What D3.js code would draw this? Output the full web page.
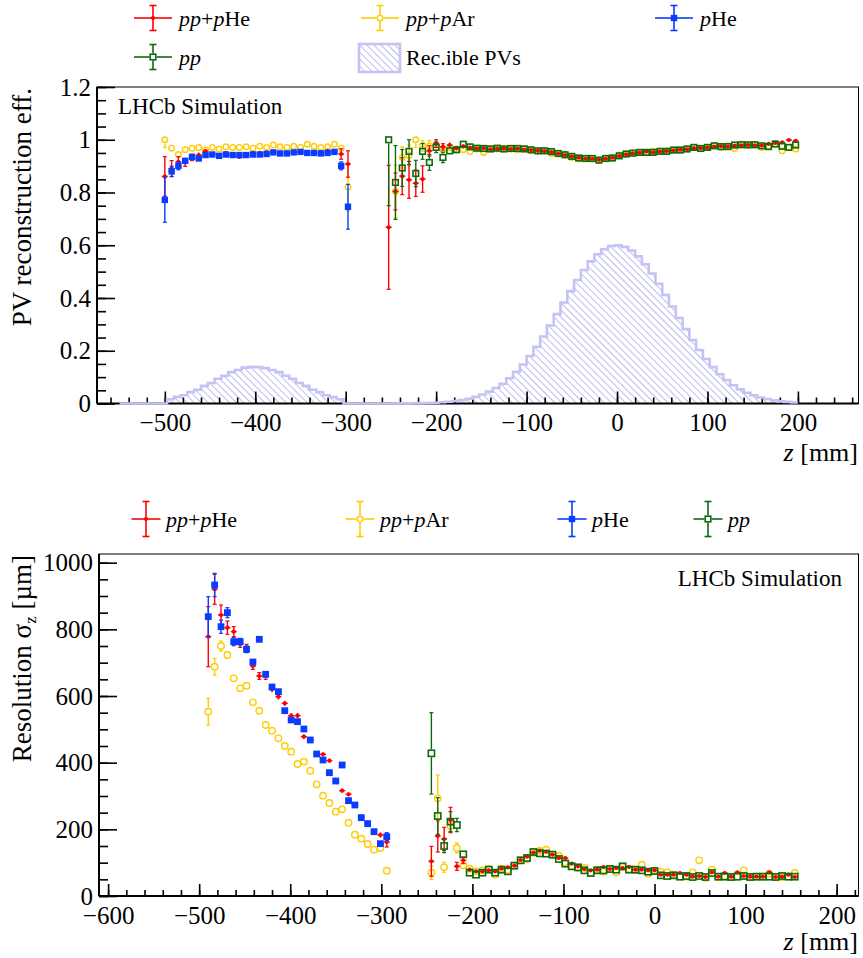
<!DOCTYPE html>
<html>
<head>
<meta charset="utf-8">
<title>PV reconstruction efficiency and resolution</title>
<script src="https://cdn.jsdelivr.net/npm/d3@7"></script>
<style>
    body { margin: 0; background: white; }
    svg text { font-family: "Liberation Serif", "Times New Roman", serif; fill: black; }
</style>
</head>
<body>
<div id="chart"></div>
<script>
// ---------------- data ----------------
// efficiency plot: bins of 7.5 mm, left group starts at -500, right group at -252.5
var effLeftStart = -500, effRightStart = -252.5, effStep = 7.5;

var effRedLeft    = [0.861, 0.891, 0.916, 0.914, 0.933, 0.942, 0.957, 0.946, 0.942, 0.950, 0.946, 0.935, 0.946, 0.950,
                     0.950, 0.952, 0.954, 0.950, 0.950, 0.952, 0.954, 0.952, 0.950, 0.954, 0.958, 0.954, 0.946, 0.908];
var effRedLeftErr = [0.075, 0.03, 0.02, 0.015, 0.012, 0.01, 0.008, 0.007, 0.006, 0.006, 0.006, 0.006, 0.006, 0.006,
                     0.006, 0.006, 0.006, 0.006, 0.006, 0.006, 0.006, 0.006, 0.006, 0.007, 0.008, 0.01, 0.02, 0.05];
var effYellowLeft    = [1.0, 0.968, 0.944, 0.962, 0.968, 0.971, 0.961, 0.971, 0.965, 0.973, 0.971, 0.971, 0.973, 0.968,
                        0.975, 0.971, 0.980, 0.973, 0.971, 0.975, 0.971, 0.983, 0.975, 0.971, 0.973, 0.983, 0.968, 0.821];
var effYellowLeftErr = [0.03, 0.012, 0.01, 0.008, 0.006, 0.006, 0.006, 0.006, 0.006, 0.006, 0.006, 0.006, 0.006, 0.006,
                        0.006, 0.006, 0.006, 0.006, 0.006, 0.006, 0.006, 0.006, 0.006, 0.006, 0.006, 0.006, 0.01, 0.09];
var effBlueLeft    = [0.772, 0.880, 0.901, 0.920, 0.935, 0.929, 0.942, 0.944, 0.939, 0.944, 0.942, 0.942, 0.942, 0.944,
                      0.944, 0.946, 0.952, 0.948, 0.948, 0.952, 0.954, 0.950, 0.950, 0.948, 0.950, 0.954, 0.901, 0.746];
var effBlueLeftErr = [0.085, 0.02, 0.015, 0.01, 0.008, 0.006, 0.006, 0.006, 0.006, 0.006, 0.006, 0.006, 0.006, 0.006,
                      0.006, 0.006, 0.006, 0.006, 0.006, 0.006, 0.006, 0.006, 0.006, 0.006, 0.006, 0.006, 0.015, 0.085];

var effRedRight = [0.668, 0.804, 0.862, 0.848, 0.835, 0.851, 0.958, 0.986, 0.973, 0.980, 0.968, 0.975, 0.970, 0.966,
                   0.968, 0.964, 0.966, 0.966, 0.965, 0.966, 0.963, 0.961, 0.958, 0.957, 0.953, 0.947, 0.942, 0.936,
                   0.932, 0.928, 0.928, 0.924, 0.928, 0.932, 0.938, 0.945, 0.948, 0.951, 0.955, 0.952, 0.955, 0.957,
                   0.960, 0.962, 0.964, 0.968, 0.968, 0.970, 0.974, 0.975, 0.974, 0.978, 0.979, 0.980, 0.979, 0.978,
                   0.984, 0.988, 0.990, 0.999, 0.996];
var effRedRightErr = [0.235, 0.07, 0.07, 0.07, 0.05, 0.05, 0.02, 0.015, 0.012, 0.01, 0.008, 0.007, 0.006, 0.005,
                      0.005, 0.005, 0.005, 0.005, 0.005, 0.005, 0.005, 0.005, 0.005, 0.005, 0.005, 0.005, 0.005, 0.005,
                      0.005, 0.005, 0.005, 0.005, 0.005, 0.005, 0.005, 0.005, 0.005, 0.005, 0.005, 0.005, 0.005, 0.005,
                      0.005, 0.005, 0.005, 0.005, 0.005, 0.005, 0.005, 0.005, 0.005, 0.005, 0.005, 0.005, 0.005, 0.005,
                      0.005, 0.005, 0.005, 0.005, 0.005];
var effYellowRight = [null, 0.804, 0.933, 0.940, 1.0, 0.977, 0.977, 0.981, 0.962, 0.971, 0.965, 0.962, 0.955, 0.965,
                      0.952, 0.967, 0.965, 0.967, 0.965, 0.961, 0.967, 0.958, 0.956, 0.958, 0.948, 0.946, 0.943, 0.933,
                      0.927, 0.929, 0.927, 0.920, 0.929, 0.931, 0.942, 0.946, 0.952, 0.952, 0.952, 0.956, 0.956, 0.958,
                      0.961, 0.962, 0.965, 0.971, 0.967, 0.971, 0.977, 0.971, 0.977, 0.967, 0.984, 0.977, 0.981, 0.971,
                      0.977, 0.984, 0.958, 0.971, 0.965];
var effYellowRightErr = [0, 0.1, 0.04, 0.04, 0.03, 0.02, 0.02, 0.015, 0.012, 0.01, 0.008, 0.007, 0.005, 0.005,
                         0.005, 0.005, 0.005, 0.005, 0.005, 0.005, 0.005, 0.005, 0.005, 0.005, 0.005, 0.005, 0.005, 0.005,
                         0.005, 0.005, 0.005, 0.005, 0.005, 0.005, 0.005, 0.005, 0.005, 0.005, 0.005, 0.005, 0.005, 0.005,
                         0.005, 0.005, 0.005, 0.005, 0.005, 0.005, 0.005, 0.005, 0.005, 0.005, 0.005, 0.005, 0.005, 0.005,
                         0.005, 0.005, 0.005, 0.005, 0.005];
var effGreenRight = [1.0, 0.838, 0.893, 0.956, 0.872, 0.956, 0.914, 0.971, 0.933, 0.958, 0.962, 0.983, 0.973, 0.968,
                     0.967, 0.965, 0.968, 0.965, 0.967, 0.967, 0.965, 0.962, 0.958, 0.958, 0.955, 0.948, 0.943, 0.937,
                     0.931, 0.929, 0.929, 0.923, 0.929, 0.931, 0.939, 0.946, 0.949, 0.952, 0.952, 0.952, 0.956, 0.956,
                     0.961, 0.961, 0.965, 0.971, 0.967, 0.971, 0.977, 0.974, 0.974, 0.980, 0.981, 0.981, 0.981, 0.977,
                     0.974, 0.984, 0.975, 0.971, 0.980];
var effGreenRightErr = [0.25, 0.14, 0.07, 0.05, 0.05, 0.03, 0.03, 0.02, 0.02, 0.015, 0.01, 0.008, 0.005, 0.005,
                        0.005, 0.005, 0.005, 0.005, 0.005, 0.005, 0.005, 0.005, 0.005, 0.005, 0.005, 0.005, 0.005, 0.005,
                        0.005, 0.005, 0.005, 0.005, 0.005, 0.005, 0.005, 0.005, 0.005, 0.005, 0.005, 0.005, 0.005, 0.005,
                        0.005, 0.005, 0.005, 0.005, 0.005, 0.005, 0.005, 0.005, 0.005, 0.005, 0.005, 0.005, 0.005, 0.005,
                        0.005, 0.005, 0.005, 0.005, 0.005];

// reconstructible PVs histogram, 7.5 mm bins from -550 to 200
var histStart = -550, histStep = 7.5;
var recPVs = [0, 0, 0, 0, 0, 0, 0,
              0.016, 0.025, 0.031, 0.043, 0.052, 0.067, 0.078, 0.094, 0.105, 0.119, 0.127, 0.136, 0.139,
              0.138, 0.134, 0.127, 0.119, 0.105, 0.094, 0.078, 0.067, 0.052, 0.043, 0.031, 0.024, 0.016,
              0, 0, 0, 0, 0, 0, 0,
              0.0002, 0.0004, 0.0006, 0.0009, 0.0014, 0.002, 0.003, 0.0045, 0.0066, 0.0094,
              0.013, 0.018, 0.025, 0.034, 0.045, 0.059, 0.075, 0.096, 0.120, 0.148,
              0.180, 0.215, 0.254, 0.296, 0.339, 0.383, 0.426, 0.468, 0.506, 0.539,
              0.566, 0.585, 0.597, 0.600, 0.594, 0.580, 0.558, 0.528, 0.493, 0.454,
              0.412, 0.368, 0.324, 0.282, 0.241, 0.203, 0.169, 0.138, 0.111, 0.089,
              0.069, 0.054, 0.041, 0.031, 0.023, 0.017, 0.012, 0.008, 0.006, 0.004];

// resolution plot: bins of 7 mm, left group starts at -490, right group at -245
var resLeftStart = -490, resRightStart = -245, resStep = 7;

var resRedLeft    = [778, 920, 843, 805, 793, 758, 743, 690, 660, 660, 620, 598, 578, 541, 541, 478, 468, 426, 425,
                     406, 343, 316, 305, 273, 238, 220, 193, 183, 162];
var resRedLeftErr = [90, 45, 30, 20, 15, 12, 12, 10, 10, 10, 9, 9, 8, 8, 8, 7, 7, 7, 6, 6, 6, 6, 6, 6, 6, 6, 6, 8, 15];
var resYellowLeft    = [553, 688, 750, 723, 653, 623, 631, 581, 556, 513, 496, 473, 450, 433, 396, 403, 376, 335, 301,
                        279, 253, 260, 220, 184, 172, 156, 139, 144, 76];
var resYellowLeftErr = [40, 25, 15, 12, 10, 8, 8, 7, 7, 6, 6, 6, 5, 5, 5, 5, 5, 5, 5, 5, 5, 5, 5, 5, 5, 5, 5, 5, 5];
var resBlueLeft    = [838, 933, 808, 850, 763, 763, 740, 702, 770, 665, 627, 613, 556, 528, 523, 501, 468, 426, 408,
                      370, 345, 393, 286, 273, 235, 217, 193, 157, 178];
var resBlueLeftErr = [60, 35, 20, 15, 12, 10, 10, 8, 8, 8, 7, 7, 6, 6, 6, 6, 6, 6, 6, 6, 6, 6, 6, 6, 6, 6, 6, 8, 12];

var resRedRight = [104, 180, 171, 228, 89, 107, 79, 74, 74, 77, 74, 82, 86, 91, 108, 118, 130, 136, 133, 124,
                   114, 114, 97, 89, 81, 77, 79, 87, 81, 84, 84, 87, 79, 79, 77, 77, 64, 64, 64, 69,
                   64, 58, 60, 57, 71, 58, 69, 58, 71, 60, 58, 58, 58, 71, 57, 58, 64, 57];
var resRedRightErr = [45, 48, 35, 38, 12, 10, 5, 4, 4, 4, 4, 4, 4, 4, 4, 4, 4, 4, 4, 4,
                      4, 4, 4, 4, 4, 4, 4, 4, 4, 4, 4, 4, 4, 4, 4, 4, 4, 4, 4, 4,
                      4, 4, 4, 4, 4, 4, 4, 4, 4, 4, 4, 4, 4, 4, 4, 4, 4, 4];
var resYellowRight = [70, 293, 86, 210, 144, 92, 82, 74, 77, 81, 64, 82, 79, 91, 108, 111, 130, 136, 139, 124,
                      120, 101, 89, 84, 84, 70, 79, 73, 81, 71, 87, 81, 77, 94, 67, 77, 73, 71, 64, 58,
                      58, 71, 107, 55, 79, 57, 60, 57, 58, 77, 58, 58, 58, 67, 58, 57, 58, 69];
var resYellowRightErr = [20, 70, 15, 18, 15, 8, 5, 4, 4, 4, 4, 4, 4, 4, 4, 4, 4, 4, 4, 4,
                         4, 4, 4, 4, 4, 4, 4, 4, 4, 4, 4, 4, 4, 4, 4, 4, 4, 4, 4, 4,
                         4, 4, 4, 4, 4, 4, 4, 4, 4, 4, 4, 4, 4, 4, 4, 4, 4, 4];
var resGreenRight = [428, 240, 150, 223, 213, 125, 70, 64, 70, 79, 70, 79, 74, 91, 107, 114, 132, 128, 127, 124,
                     111, 97, 89, 86, 77, 69, 77, 77, 81, 79, 89, 79, 79, 77, 73, 75, 62, 60, 62, 58,
                     60, 57, 60, 57, 69, 58, 58, 57, 58, 60, 57, 58, 58, 58, 57, 60, 58, 58];
var resGreenRightErr = [122, 55, 20, 30, 20, 10, 6, 5, 4, 4, 4, 4, 4, 4, 4, 4, 4, 4, 4, 4,
                        4, 4, 4, 4, 4, 4, 4, 4, 4, 4, 4, 4, 4, 4, 4, 4, 4, 4, 4, 4,
                        4, 4, 4, 4, 4, 4, 4, 4, 4, 4, 4, 4, 4, 4, 4, 4, 4, 4];

var effTicks = [0, 0.2, 0.4, 0.6, 0.8, 1.0, 1.2];
var resTicks = [0, 200, 400, 600, 800, 1000];
var topZTicks = [-500, -400, -300, -200, -100, 0, 100, 200];
var botZTicks = [-600, -500, -400, -300, -200, -100, 0, 100, 200];

// ---------------- styles ----------------
var styles = {
    red:    { color: "#ff0000", shape: "dot" },
    yellow: { color: "#ffcc00", shape: "ocircle" },
    blue:   { color: "#0a3cff", shape: "square" },
    green:  { color: "#0d6b0d", shape: "osquare" }
};
var histLine = "#c4c4f4", hatchLine = "#b6b6ec";

var svg = d3.select("#chart").append("svg")
            .attr("width", 863)
            .attr("height", 958);

var pat = svg.append("defs").append("pattern")
             .attr("id", "hatch")
             .attr("patternUnits", "userSpaceOnUse")
             .attr("width", 5).attr("height", 5)
             .attr("patternTransform", "rotate(45)");
pat.append("line")
   .attr("x1", 0).attr("y1", 2.5).attr("x2", 5).attr("y2", 2.5)
   .attr("stroke", hatchLine).attr("stroke-width", 0.9);

function fmtTick(d)
{
    var s = d3.format("~g")(Math.abs(d));
    return (d < 0 ? "\u2212" : "") + s;
}

function richText(g, x, y, parts, size, anchor)
{
    var t = g.append("text")
             .attr("x", x).attr("y", y)
             .attr("font-size", size)
             .attr("text-anchor", anchor || "start");
    parts.forEach(function(p){
        t.append("tspan").text(p[0]).attr("font-style", p[1] ? "italic" : "normal");
    });
    return t;
}

function drawAxes(g, x, y, xMajor, xMinor, yMajor, yMinor)
{
    var x0 = x.range()[0], x1 = x.range()[1];
    var y0 = y.range()[0], y1 = y.range()[1];

    // frame
    g.append("rect")
     .attr("x", x0).attr("y", y1).attr("width", x1 - x0).attr("height", y0 - y1)
     .attr("fill", "none").attr("stroke", "black").attr("stroke-width", 1);

    var clean = function(sel){
        sel.select(".domain").remove();
        sel.attr("font-size", 25).attr("font-family", null);
        sel.selectAll("line").attr("stroke", "black").attr("stroke-width", 1.6);
    };

    g.append("g").attr("transform", "translate(0," + y0 + ")")
     .call(d3.axisBottom(x).tickValues(xMinor).tickSize(-6).tickFormat(""))
     .call(clean);
    g.append("g").attr("transform", "translate(0," + y0 + ")")
     .call(d3.axisBottom(x).tickValues(xMajor).tickSize(-12).tickPadding(10).tickFormat(fmtTick))
     .call(clean);
    g.append("g").attr("transform", "translate(" + x0 + ",0)")
     .call(d3.axisLeft(y).tickValues(yMinor).tickSize(-9).tickFormat(""))
     .call(clean);
    g.append("g").attr("transform", "translate(" + x0 + ",0)")
     .call(d3.axisLeft(y).tickValues(yMajor).tickSize(-18).tickPadding(6).tickFormat(fmtTick))
     .call(clean);

    g.append("line").attr("x1", x0).attr("x2", x1).attr("y1", y0).attr("y2", y0)
     .attr("stroke", "black").attr("stroke-width", 2);
    g.append("line").attr("x1", x0).attr("x2", x0).attr("y1", y0).attr("y2", y1)
     .attr("stroke", "black").attr("stroke-width", 2);
}

function markerRadius(style, size)
{
    // error lines stop at the edge of open markers
    if(style.shape == "ocircle") return size * 0.5 + 0.7;
    if(style.shape == "osquare") return size * 0.5 + 0.8;
    return 0;
}

function drawMarker(g, cx, cy, style, size)
{
    var c = style.color;
    if(style.shape == "dot")
        g.append("circle").attr("cx", cx).attr("cy", cy).attr("r", size * 0.42).attr("fill", c);
    else if(style.shape == "ocircle")
        g.append("circle").attr("cx", cx).attr("cy", cy).attr("r", size * 0.5)
         .attr("fill", "none").attr("stroke", c).attr("stroke-width", 1.4);
    else if(style.shape == "square")
        g.append("rect").attr("x", cx - size / 2).attr("y", cy - size / 2)
         .attr("width", size).attr("height", size).attr("fill", c);
    else
        g.append("rect").attr("x", cx - size / 2).attr("y", cy - size / 2)
         .attr("width", size).attr("height", size)
         .attr("fill", "none").attr("stroke", c).attr("stroke-width", 1.6);
}

function seg(g, x1, y1, x2, y2, color, w)
{
    g.append("line").attr("x1", x1).attr("y1", y1).attr("x2", x2).attr("y2", y2)
     .attr("stroke", color).attr("stroke-width", w);
}

function drawSeries(g, x, y, start, step, vals, errs, style, size, maxVal)
{
    var pts = [];
    vals.forEach(function(v, i){
        if(v != null)
            pts.push({ z: start + i * step, v: v, e: errs[i] || 0 });
    });
    var s = g.append("g");
    var r = markerRadius(style, size);
    var c = style.color;
    pts.forEach(function(d){
        var px = x(d.z), py = y(d.v);
        var hi = maxVal != null ? Math.min(d.v + d.e, maxVal) : d.v + d.e;
        var yTop = y(hi), yBot = y(d.v - d.e);
        if(py - r > yTop) seg(s, px, yTop, px, py - r, c, 1.4);
        if(py + r < yBot) seg(s, px, py + r, px, yBot, c, 1.4);
        if(yBot - yTop > 6)
        {
            if(py - yTop > r + 1) seg(s, px - 2, yTop, px + 2, yTop, c, 1.2);
            if(yBot - py > r + 1) seg(s, px - 2, yBot, px + 2, yBot, c, 1.2);
        }
        if(r < 3)
            seg(s, px - 3, py, px + 3, py, c, 1.4);
        drawMarker(s, px, py, style, size);
    });
}

function legendEntry(g, cx, cy, halfW, halfH, style, size, tx, parts)
{
    var c = style.color;
    var r = markerRadius(style, size);
    seg(g, cx - halfW, cy, cx - r, cy, c, 1.6);
    seg(g, cx + r, cy, cx + halfW, cy, c, 1.6);
    seg(g, cx, cy - halfH, cx, cy - r, c, 1.6);
    seg(g, cx, cy + r, cx, cy + halfH, c, 1.6);
    seg(g, cx - 3.5, cy - halfH, cx + 3.5, cy - halfH, c, 1.6);
    seg(g, cx - 3.5, cy + halfH, cx + 3.5, cy + halfH, c, 1.6);
    drawMarker(g, cx, cy, style, size);
    richText(g, tx, cy + 7.5, parts, 22);
}

var lblRed = [["pp", true], ["+", false], ["p", true], ["He", false]];
var lblYellow = [["pp", true], ["+", false], ["p", true], ["Ar", false]];
var lblBlue = [["p", true], ["He", false]];
var lblGreen = [["pp", true]];

// ---------------- top: efficiency ----------------
var xTop = d3.scaleLinear().domain([-575, 267]).range([97, 858.5]);
var yTop = d3.scaleLinear().domain([0, 1.2]).range([403.5, 87]);
var gTop = svg.append("g");

var histPts = [];
recPVs.forEach(function(v, i){
    histPts.push([histStart + i * histStep, v]);
    histPts.push([histStart + (i + 1) * histStep, v]);
});
gTop.append("path")
    .datum(histPts)
    .attr("d", d3.area().x(function(d){ return xTop(d[0]); })
                        .y0(yTop(0)).y1(function(d){ return yTop(d[1]); }))
    .attr("fill", "url(#hatch)");

drawAxes(gTop, xTop, yTop, topZTicks, d3.range(-560, 261, 20), effTicks, d3.range(0, 1.2001, 0.05));

gTop.append("path")
    .datum(histPts)
    .attr("d", d3.line().x(function(d){ return xTop(d[0]); }).y(function(d){ return yTop(d[1]); }))
    .attr("fill", "none").attr("stroke", histLine).attr("stroke-width", 2.6);

drawSeries(gTop, xTop, yTop, effLeftStart, effStep, effYellowLeft, effYellowLeftErr, styles.yellow, 5.6, 1);
drawSeries(gTop, xTop, yTop, effRightStart, effStep, effYellowRight, effYellowRightErr, styles.yellow, 5.6, 1);
drawSeries(gTop, xTop, yTop, effLeftStart, effStep, effRedLeft, effRedLeftErr, styles.red, 5, 1);
drawSeries(gTop, xTop, yTop, effRightStart, effStep, effRedRight, effRedRightErr, styles.red, 5, 1);
drawSeries(gTop, xTop, yTop, effLeftStart, effStep, effBlueLeft, effBlueLeftErr, styles.blue, 6.4, 1);
drawSeries(gTop, xTop, yTop, effRightStart, effStep, effGreenRight, effGreenRightErr, styles.green, 5.6, 1);

gTop.append("text").attr("x", 118).attr("y", 114).attr("font-size", 23).text("LHCb Simulation");
gTop.append("text")
    .attr("transform", "translate(31,88) rotate(-90)")
    .attr("text-anchor", "end").attr("font-size", 27)
    .text("PV reconstruction eff.");
richText(gTop, 858, 461, [["z", true], [" [mm]", false]], 26, "end");

// legend
legendEntry(gTop, 153, 18, 19, 12.5, styles.red, 5, 179, lblRed);
legendEntry(gTop, 380, 18, 19, 12.5, styles.yellow, 5.6, 406, lblYellow);
legendEntry(gTop, 674, 18, 19, 12.5, styles.blue, 6.4, 700, lblBlue);
legendEntry(gTop, 153, 57, 19, 12.5, styles.green, 5.6, 179, lblGreen);
gTop.append("rect").attr("x", 359).attr("y", 44).attr("width", 41).attr("height", 28)
    .attr("fill", "url(#hatch)").attr("stroke", histLine).attr("stroke-width", 2.6);
richText(gTop, 406, 64.5, [["Rec.ible PVs", false]], 22);

// ---------------- bottom: resolution ----------------
var xBot = d3.scaleLinear().domain([-610, 224]).range([99, 858.5]);
var yBot = d3.scaleLinear().domain([0, 1026]).range([896, 554]);
var gBot = svg.append("g");

drawAxes(gBot, xBot, yBot, botZTicks, d3.range(-600, 221, 20), resTicks, d3.range(0, 1001, 50));

drawSeries(gBot, xBot, yBot, resLeftStart, resStep, resYellowLeft, resYellowLeftErr, styles.yellow, 6.4);
drawSeries(gBot, xBot, yBot, resRightStart, resStep, resYellowRight, resYellowRightErr, styles.yellow, 6.4);
drawSeries(gBot, xBot, yBot, resLeftStart, resStep, resRedLeft, resRedLeftErr, styles.red, 5);
drawSeries(gBot, xBot, yBot, resRightStart, resStep, resRedRight, resRedRightErr, styles.red, 5);
drawSeries(gBot, xBot, yBot, resLeftStart, resStep, resBlueLeft, resBlueLeftErr, styles.blue, 6.8);
drawSeries(gBot, xBot, yBot, resRightStart, resStep, resGreenRight, resGreenRightErr, styles.green, 6.2);

gBot.append("text").attr("x", 842).attr("y", 586).attr("text-anchor", "end")
    .attr("font-size", 23).text("LHCb Simulation");

var resTitle = gBot.append("text")
                   .attr("transform", "translate(31,555) rotate(-90)")
                   .attr("text-anchor", "end").attr("font-size", 27);
resTitle.append("tspan").text("Resolution \u03c3");
resTitle.append("tspan").text("z").attr("font-size", 17).attr("dy", 5);
resTitle.append("tspan").text(" [\u00b5m]").attr("dy", -5);
richText(gBot, 858, 950, [["z", true], [" [mm]", false]], 26, "end");

legendEntry(gBot, 146, 519, 14.5, 17.5, styles.red, 5, 166, lblRed);
legendEntry(gBot, 360, 519, 14.5, 17.5, styles.yellow, 5.6, 380, lblYellow);
legendEntry(gBot, 572, 519, 14.5, 17.5, styles.blue, 6.4, 592, lblBlue);
legendEntry(gBot, 708, 519, 14.5, 17.5, styles.green, 5.6, 728, lblGreen);
</script>
</body>
</html>
